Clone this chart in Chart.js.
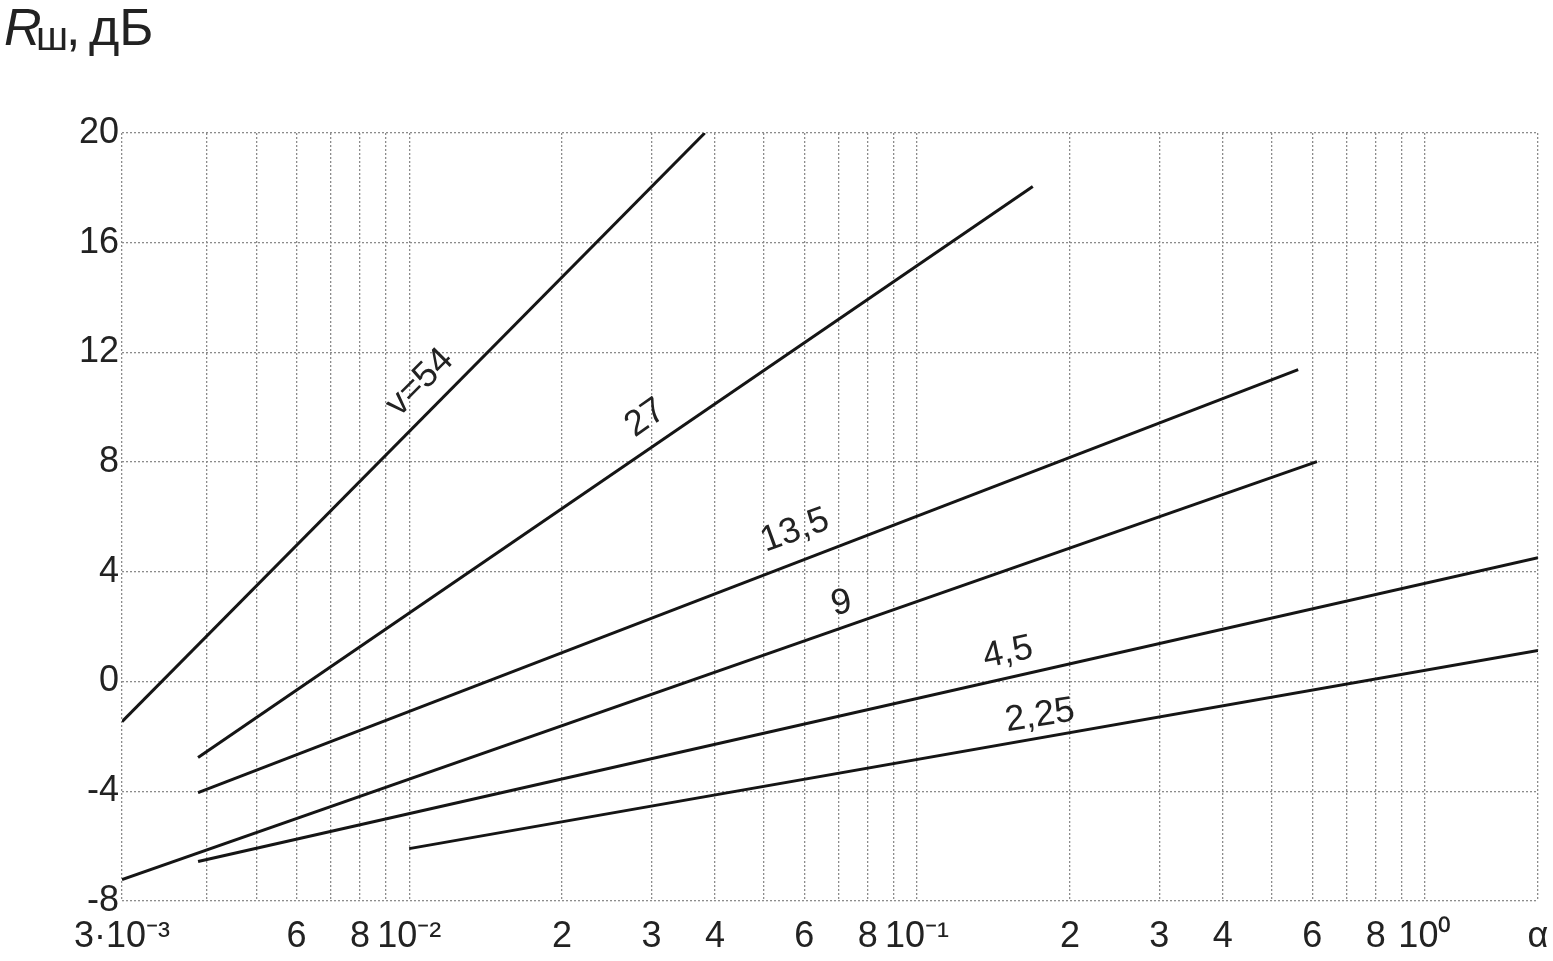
<!DOCTYPE html>
<html>
<head>
<meta charset="utf-8">
<script src="https://cdn.jsdelivr.net/npm/chart.js@4/dist/chart.umd.min.js"></script>
<style>
html, body { margin: 0; padding: 0; background: #fff; }
#wrap { position: relative; width: 1553px; height: 961px; }
</style>
</head>
<body>
<div id="wrap"><canvas id="chart"></canvas></div>
<script>
// curves Rш(α) for several ν
const curveNames = ['v=54', '27', '13,5', '9', '4,5', '2,25'];
const alpha54 = [0.00272, 0.0382];
const r54 = [-1.46, 20];
const alpha27 = [0.00384, 0.169];
const r27 = [-2.77, 18.05];
const alpha135 = [0.00384, 0.563];
const r135 = [-4.05, 11.37];
const alpha9 = [0.00272, 0.613];
const r9 = [-7.22, 8.02];
const alpha45 = [0.00384, 1.67];
const r45 = [-6.56, 4.52];
const alpha225 = [0.01, 1.67];
const r225 = [-6.09, 1.13];

// where the curve names sit (α, dB)
const labelAlpha = [0.0105, 0.0292, 0.0575, 0.071, 0.151, 0.1746];
const labelR = [10.9, 9.6, 5.5, 2.85, 1.05, -1.25];

// x axis grid / labels
const xTickValues = [0.00272, 0.004, 0.005, 0.006, 0.007, 0.008, 0.009,
    0.01, 0.02, 0.03, 0.04, 0.05, 0.06, 0.07, 0.08, 0.09,
    0.1, 0.2, 0.3, 0.4, 0.5, 0.6, 0.7, 0.8, 0.9, 1, 1.67];
const xTickLabels = ['3·10⁻³', '', '', '6', '', '8', '',
    '10⁻²', '2', '3', '4', '', '6', '', '8', '',
    '10⁻¹', '2', '3', '4', '', '6', '', '8', '', '10⁰', 'α'];
const yMin = -8, yMax = 20, yStep = 4;

const FONT = '"Liberation Sans", Arial, sans-serif';
const INK = '#222';
const labelAngle = [-45, -35, -20, -12, -12, -9];

function pts(xs, ys) {
    return xs.map((x, i) => ({ x: x, y: ys[i] }));
}

const allX = [alpha54, alpha27, alpha135, alpha9, alpha45, alpha225];
const allY = [r54, r27, r135, r9, r45, r225];

// подписи кривых
const curveLabels = {
    id: 'curveLabels',
    afterDatasetsDraw(chart) {
        const { ctx, scales: { x, y } } = chart;
        ctx.save();
        ctx.fillStyle = INK;
        ctx.font = '36px ' + FONT;
        ctx.textAlign = 'center';
        ctx.textBaseline = 'middle';
        curveNames.forEach((name, i) => {
            ctx.save();
            ctx.translate(x.getPixelForValue(labelAlpha[i]), y.getPixelForValue(labelR[i]));
            ctx.rotate(labelAngle[i] * Math.PI / 180);
            ctx.fillText(name, 0, 0);
            ctx.restore();
        });
        ctx.restore();
    }
};

// заголовок оси Y: Rш, дБ
const yTitle = {
    id: 'yTitle',
    afterDraw(chart) {
        const ctx = chart.ctx;
        ctx.save();
        ctx.fillStyle = INK;
        ctx.textBaseline = 'alphabetic';
        ctx.font = 'italic 52px ' + FONT;
        ctx.fillText('R', 4, 45);
        ctx.font = '40px ' + FONT;
        ctx.fillText('ш', 36, 50);
        ctx.font = '52px ' + FONT;
        ctx.fillText(',', 66, 45);
        ctx.fillText('дБ', 89, 45);
        ctx.restore();
    }
};

new Chart(document.getElementById('chart'), {
    type: 'line',
    data: {
        datasets: curveNames.map((name, i) => ({
            label: name,
            data: pts(allX[i], allY[i]),
            borderColor: '#151515',
            borderWidth: 3,
            pointRadius: 0,
            fill: false
        }))
    },
    options: {
        responsive: true,
        maintainAspectRatio: false,
        animation: false,
        layout: { padding: { top: 133, right: 15, bottom: 0, left: 0 } },
        plugins: {
            legend: { display: false },
            tooltip: { enabled: false }
        },
        scales: {
            x: {
                type: 'logarithmic',
                min: xTickValues[0],
                max: xTickValues[xTickValues.length - 1],
                afterBuildTicks(scale) {
                    scale.ticks = xTickValues.map(v => ({ value: v }));
                },
                afterFit(scale) {
                    scale.height = 60;
                    scale.paddingRight = 0;
                    scale.paddingLeft = 0;
                },
                grid: { color: '#8c8c8c', lineWidth: 1.3, drawTicks: false },
                border: { display: false, dash: [2, 2] },
                ticks: {
                    autoSkip: false,
                    maxRotation: 0,
                    minRotation: 0,
                    padding: 14,
                    color: INK,
                    font: { family: FONT, size: 36 },
                    callback: (value, index) => xTickLabels[index]
                }
            },
            y: {
                type: 'linear',
                min: yMin,
                max: yMax,
                afterFit(scale) { scale.width = 122; },
                grid: { color: '#8c8c8c', lineWidth: 1.3, drawTicks: false },
                border: { display: false, dash: [2, 2] },
                ticks: {
                    stepSize: yStep,
                    padding: 3,
                    color: INK,
                    font: { family: FONT, size: 36 }
                }
            }
        }
    },
    plugins: [curveLabels, yTitle]
});
</script>
</body>
</html>
